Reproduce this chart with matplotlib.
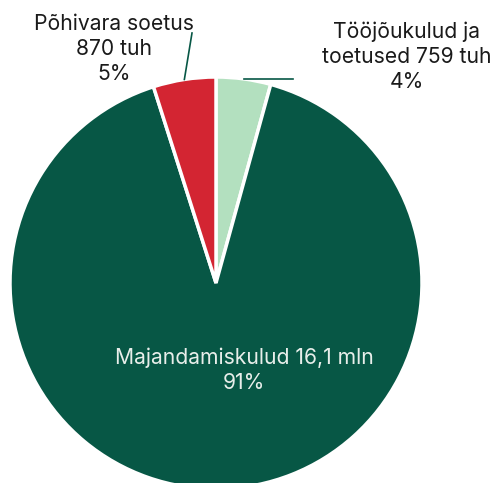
import numpy as np
import matplotlib.pyplot as plt

plt.rcParams['font.family'] = ['Inter', 'DejaVu Sans']

## Data
labels = ['Tööjõukulud ja\ntoetused 759 tuh', 'Majandamiskulud 16,1 mln', 'Põhivara soetus\n870 tuh']
values = [759, 16100, 870]
colors = ['#b3e0bf', '#075745', '#d32532']

total = sum(values)
pcts = [v / total * 100 for v in values]

fig = plt.figure(figsize=(4.99, 4.83), dpi=100)
ax = fig.add_axes([0, 0, 1, 1])

wedges, _ = ax.pie(values, colors=colors, startangle=90, counterclock=False,
                   radius=1, center=(0, 0),
                   wedgeprops=dict(edgecolor='white', linewidth=2.5))

# pixel mapping: centre at (216, 283), radius 206 px
r_px = 206.0
ax.set_xlim(-216 / r_px, (499 - 216) / r_px)
ax.set_ylim(-(483 - 283) / r_px, 283 / r_px)
ax.set_aspect('equal')
ax.axis('off')

def mid_point(w, r=1.0):
    a = np.deg2rad((w.theta1 + w.theta2) / 2)
    return r * np.cos(a), r * np.sin(a)

def px(x, y):
    return (x - 216) / r_px, (283 - y) / r_px

fs = 15.2
line_col = '#075745'

# Tööjõukulud (outside, right)
x0, y0 = mid_point(wedges[0])
ax.plot([x0, px(293, 0)[0]], [y0, y0], color=line_col, lw=1.2)
tx, ty = px(407, 57)
ax.text(tx, ty, labels[0] + '\n%d%%' % round(pcts[0]), ha='center', va='center',
        fontsize=fs, color='#1a1a1a', linespacing=1.3)

# Põhivara (outside, top left)
x2, y2 = mid_point(wedges[2])
lx, ly = px(192, 33)
ax.plot([x2, lx], [y2, ly], color=line_col, lw=1.2)
tx, ty = px(114, 49)
ax.text(tx, ty, labels[2] + '\n%d%%' % round(pcts[2]), ha='center', va='center',
        fontsize=fs, color='#1a1a1a', linespacing=1.3)

# Majandamiskulud (inside)
tx, ty = px(244, 370)
ax.text(tx, ty, labels[1] + '\n%d%%' % round(pcts[1]), ha='center', va='center',
        fontsize=fs, color='#e8eeea', linespacing=1.3)

plt.savefig('out.png', dpi=100)
